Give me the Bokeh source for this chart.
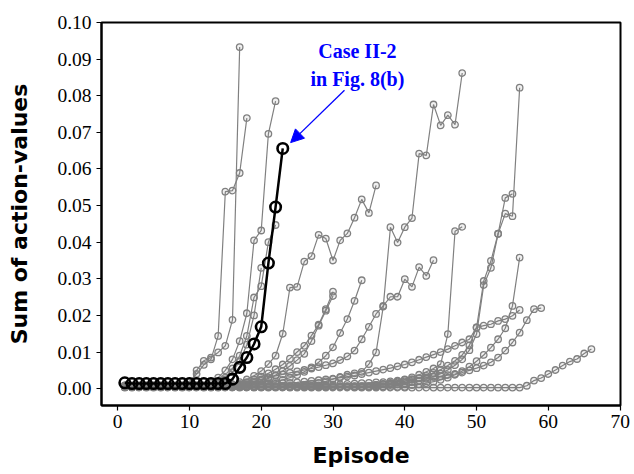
from bokeh.plotting import figure
from bokeh.models import ColumnDataSource, Arrow, NormalHead, Label, FixedTicker
from bokeh.embed import file_html
from bokeh.resources import INLINE

# ---------------- data ----------------
x_ticks = [0, 10, 20, 30, 40, 50, 60, 70]
y_ticks = [0.00, 0.01, 0.02, 0.03, 0.04, 0.05, 0.06, 0.07, 0.08, 0.09, 0.10]
y_tick_labels = ["0.00", "0.01", "0.02", "0.03", "0.04", "0.05", "0.06", "0.07", "0.08", "0.09", "0.10"]

case_values = [0.0016, 0.0014, 0.0014, 0.0014, 0.0014, 0.0014, 0.0014, 0.0014, 0.0014, 0.0014,
               0.0014, 0.0014, 0.0014, 0.0014, 0.0014, 0.0026, 0.0058, 0.0085, 0.0122, 0.0169,
               0.0343, 0.0496, 0.0656]

g01 = [0.0006, 0.0006, 0.0006, 0.0006, 0.0006, 0.0006, 0.0006, 0.0006, 0.0006, 0.0006,
       0.0050, 0.0076, 0.0085, 0.0099, 0.0117, 0.0188, 0.0933]
g02 = [0.0007, 0.0007, 0.0007, 0.0007, 0.0007, 0.0007, 0.0007, 0.0007, 0.0007, 0.0020,
       0.0040, 0.0065, 0.0080, 0.0144, 0.0538, 0.0541, 0.0589, 0.0739]
g03 = [0.0005, 0.0005, 0.0005, 0.0005, 0.0005, 0.0005, 0.0005, 0.0005, 0.0005, 0.0005,
       0.0005, 0.0005, 0.0015, 0.0030, 0.0050, 0.0080, 0.0130, 0.0206, 0.0405, 0.0432,
       0.0696, 0.0785]
g04 = [0.0008, 0.0008, 0.0008, 0.0008, 0.0008, 0.0008, 0.0008, 0.0008, 0.0008, 0.0008,
       0.0008, 0.0008, 0.0008, 0.0015, 0.0030, 0.0055, 0.0090, 0.0144, 0.0249, 0.0280,
       0.0400, 0.0447]
g05 = [0.0004, 0.0004, 0.0004, 0.0004, 0.0004, 0.0004, 0.0004, 0.0004, 0.0004, 0.0004,
       0.0004, 0.0004, 0.0004, 0.0012, 0.0025, 0.0045, 0.0075, 0.0120, 0.0200, 0.0330]
g06 = [0.0006, 0.0006, 0.0006, 0.0006, 0.0006, 0.0006, 0.0006, 0.0006, 0.0006, 0.0006,
       0.0006, 0.0006, 0.0006, 0.0006, 0.0006, 0.0012, 0.0018, 0.0025, 0.0035, 0.0048,
       0.0067, 0.0090, 0.0150, 0.0276, 0.0278, 0.0347, 0.0362, 0.0420, 0.0410, 0.0350,
       0.0405, 0.0424, 0.0467, 0.0517, 0.0480, 0.0555]
g07 = [0.0005, 0.0005, 0.0005, 0.0005, 0.0005, 0.0005, 0.0005, 0.0005, 0.0005, 0.0005,
       0.0005, 0.0005, 0.0005, 0.0005, 0.0005, 0.0005, 0.0012, 0.0018, 0.0025, 0.0033,
       0.0042, 0.0053, 0.0066, 0.0082, 0.0100, 0.0117, 0.0145, 0.0175, 0.0217, 0.0265]
g08 = [0.0007, 0.0007, 0.0007, 0.0007, 0.0007, 0.0007, 0.0007, 0.0007, 0.0007, 0.0007,
       0.0007, 0.0007, 0.0007, 0.0007, 0.0007, 0.0007, 0.0007, 0.0012, 0.0016, 0.0021,
       0.0028, 0.0037, 0.0048, 0.0062, 0.0078, 0.0095, 0.0130, 0.0172, 0.0213, 0.0253]
g09 = [0.0004, 0.0004, 0.0004, 0.0004, 0.0004, 0.0004, 0.0004, 0.0004, 0.0004, 0.0004,
       0.0004, 0.0004, 0.0004, 0.0004, 0.0004, 0.0004, 0.0004, 0.0004, 0.0004, 0.0012,
       0.0015, 0.0019, 0.0024, 0.0030, 0.0037, 0.0046, 0.0058, 0.0072, 0.0090, 0.0113,
       0.0152, 0.0190, 0.0240, 0.0296]
g10 = [0.0009, 0.0009, 0.0009, 0.0009, 0.0009, 0.0009, 0.0009, 0.0009, 0.0009, 0.0009,
       0.0009, 0.0009, 0.0009, 0.0009, 0.0009, 0.0009, 0.0012, 0.0016, 0.0020, 0.0025,
       0.0031, 0.0035, 0.0039, 0.0043, 0.0047, 0.0051, 0.0055, 0.0059, 0.0064, 0.0069,
       0.0078, 0.0088, 0.0104, 0.0135, 0.0169, 0.0204, 0.0226, 0.0251, 0.0251, 0.0299,
       0.0278, 0.0332, 0.0308, 0.0351]
g11 = [0.0006, 0.0006, 0.0006, 0.0006, 0.0006, 0.0006, 0.0006, 0.0006, 0.0006, 0.0006,
       0.0006, 0.0006, 0.0006, 0.0006, 0.0006, 0.0006, 0.0006, 0.0006, 0.0006, 0.0006,
       0.0006, 0.0006, 0.0006, 0.0006, 0.0006, 0.0010, 0.0013, 0.0016, 0.0020, 0.0026,
       0.0032, 0.0038, 0.0042, 0.0046, 0.0067, 0.0099, 0.0224, 0.0441, 0.0399, 0.0441,
       0.0466, 0.0642, 0.0637, 0.0776, 0.0719, 0.0747, 0.0721, 0.0862]
g12 = [0.0005, 0.0005, 0.0005, 0.0005, 0.0005, 0.0005, 0.0005, 0.0005, 0.0005, 0.0005,
       0.0005, 0.0005, 0.0005, 0.0005, 0.0005, 0.0005, 0.0005, 0.0005, 0.0005, 0.0005,
       0.0005, 0.0005, 0.0005, 0.0005, 0.0005, 0.0005, 0.0005, 0.0005, 0.0005, 0.0005,
       0.0005, 0.0005, 0.0005, 0.0005, 0.0005, 0.0010, 0.0013, 0.0016, 0.0020, 0.0025,
       0.0031, 0.0038, 0.0046, 0.0055, 0.0067, 0.0149, 0.0430, 0.0442]
g13 = [0.0008, 0.0008, 0.0008, 0.0008, 0.0008, 0.0008, 0.0008, 0.0008, 0.0008, 0.0008,
       0.0008, 0.0008, 0.0008, 0.0008, 0.0008, 0.0008, 0.0008, 0.0010, 0.0011, 0.0012,
       0.0013, 0.0014, 0.0015, 0.0016, 0.0017, 0.0019, 0.0021, 0.0023, 0.0025, 0.0027,
       0.0030, 0.0033, 0.0036, 0.0040, 0.0044, 0.0048, 0.0052, 0.0056, 0.0061, 0.0066,
       0.0072, 0.0079, 0.0086, 0.0093, 0.0100, 0.0108, 0.0117, 0.0126, 0.0135, 0.0167,
       0.0172, 0.0176, 0.0185, 0.0190, 0.0199, 0.0215]
g14 = [0.0004, 0.0004, 0.0004, 0.0004, 0.0004, 0.0004, 0.0004, 0.0004, 0.0004, 0.0004,
       0.0004, 0.0004, 0.0004, 0.0004, 0.0004, 0.0004, 0.0004, 0.0004, 0.0004, 0.0004,
       0.0004, 0.0004, 0.0004, 0.0004, 0.0006, 0.0007, 0.0008, 0.0009, 0.0010, 0.0011,
       0.0012, 0.0013, 0.0014, 0.0015, 0.0016, 0.0017, 0.0018, 0.0020, 0.0022, 0.0024,
       0.0026, 0.0028, 0.0030, 0.0032, 0.0034, 0.0037, 0.0040, 0.0044, 0.0050, 0.0056,
       0.0063, 0.0072, 0.0085, 0.0104, 0.0126, 0.0153, 0.0187, 0.0217, 0.0220]
g15 = [0.0007, 0.0007, 0.0007, 0.0007, 0.0007, 0.0007, 0.0007, 0.0007, 0.0007, 0.0007,
       0.0007, 0.0007, 0.0007, 0.0007, 0.0007, 0.0007, 0.0007, 0.0007, 0.0007, 0.0007,
       0.0007, 0.0007, 0.0007, 0.0007, 0.0007, 0.0007, 0.0007, 0.0007, 0.0007, 0.0007,
       0.0007, 0.0007, 0.0007, 0.0007, 0.0007, 0.0010, 0.0012, 0.0014, 0.0017, 0.0020,
       0.0024, 0.0029, 0.0035, 0.0043, 0.0052, 0.0063, 0.0076, 0.0092, 0.0118, 0.0167,
       0.0294, 0.0349, 0.0423, 0.0521, 0.0532]
g16 = [0.0006, 0.0006, 0.0006, 0.0006, 0.0006, 0.0006, 0.0006, 0.0006, 0.0006, 0.0006,
       0.0006, 0.0006, 0.0006, 0.0006, 0.0006, 0.0006, 0.0006, 0.0006, 0.0006, 0.0006,
       0.0006, 0.0006, 0.0006, 0.0006, 0.0006, 0.0006, 0.0006, 0.0006, 0.0006, 0.0006,
       0.0006, 0.0006, 0.0006, 0.0006, 0.0006, 0.0006, 0.0006, 0.0010, 0.0012, 0.0015,
       0.0018, 0.0022, 0.0027, 0.0033, 0.0041, 0.0051, 0.0064, 0.0080, 0.0105, 0.0149,
       0.0283, 0.0330, 0.0423, 0.0478, 0.0471, 0.0822]
g17 = [0.0005, 0.0005, 0.0005, 0.0005, 0.0005, 0.0005, 0.0005, 0.0005, 0.0005, 0.0005,
       0.0005, 0.0005, 0.0005, 0.0005, 0.0005, 0.0005, 0.0005, 0.0005, 0.0005, 0.0005,
       0.0005, 0.0005, 0.0005, 0.0005, 0.0005, 0.0005, 0.0005, 0.0005, 0.0005, 0.0005,
       0.0005, 0.0005, 0.0005, 0.0005, 0.0005, 0.0005, 0.0005, 0.0005, 0.0005, 0.0005,
       0.0010, 0.0012, 0.0015, 0.0019, 0.0024, 0.0030, 0.0038, 0.0048, 0.0060, 0.0075,
       0.0092, 0.0112, 0.0135, 0.0165, 0.0226, 0.0358]
g18 = [0.0003, 0.0003, 0.0003, 0.0003, 0.0003, 0.0003, 0.0003, 0.0003, 0.0003, 0.0003,
       0.0003, 0.0003, 0.0003, 0.0003, 0.0003, 0.0003, 0.0003, 0.0003, 0.0003, 0.0003,
       0.0003, 0.0003, 0.0003, 0.0003, 0.0003, 0.0003, 0.0003, 0.0003, 0.0003, 0.0003,
       0.0003, 0.0003, 0.0003, 0.0003, 0.0003, 0.0003, 0.0003, 0.0003, 0.0003, 0.0003,
       0.0003, 0.0003, 0.0003, 0.0003, 0.0003, 0.0003, 0.0003, 0.0003, 0.0003, 0.0003,
       0.0003, 0.0003, 0.0003, 0.0003, 0.0003, 0.0003, 0.0008, 0.0022, 0.0029, 0.0040,
       0.0051, 0.0063, 0.0074, 0.0081, 0.0096, 0.0108]

gray_series = [g01, g02, g03, g04, g05, g06, g07, g08, g09, g10,
               g11, g12, g13, g14, g15, g16, g17, g18]

annotation_lines = ["Case II-2", "in Fig. 8(b)"]

# ---------------- figure ----------------
GRAY = "#808080"
p = figure(width=634, height=474, output_backend="svg", toolbar_location=None,
           x_range=(-2.25, 70.05), y_range=(-0.0046, 0.1),
           min_border_left=101, min_border_right=14, min_border_top=22, min_border_bottom=69)
p.background_fill_color = "white"
p.border_fill_color = "white"
p.grid.visible = False
p.outline_line_color = "black"
p.outline_line_width = 2
p.outline_line_alpha = 1

for vals in gray_series:
    src = ColumnDataSource(dict(x=list(range(1, len(vals) + 1)), y=vals))
    p.line("x", "y", source=src, line_color=GRAY, line_width=1.2)
    p.scatter("x", "y", source=src, marker="circle", size=6.5, line_color=GRAY,
              line_width=1.3, fill_color=GRAY, fill_alpha=0.12)

src_case = ColumnDataSource(dict(x=list(range(1, len(case_values) + 1)), y=case_values))
p.line("x", "y", source=src_case, line_color="black", line_width=2.5)
p.scatter("x", "y", source=src_case, marker="circle", size=10.5, line_color="black",
          line_width=2.6, fill_color=None)

# annotation
p.add_layout(Label(x=33.4, y=0.0921, text=annotation_lines[0], text_align="center",
                   text_baseline="middle", text_color="#0000ff", text_font="Liberation Serif",
                   text_font_style="bold", text_font_size="20px"))
p.add_layout(Label(x=33.4, y=0.0847, text=annotation_lines[1], text_align="center",
                   text_baseline="middle", text_color="#0000ff", text_font="Liberation Serif",
                   text_font_style="bold", text_font_size="20px"))
p.add_layout(Arrow(end=NormalHead(size=13, fill_color="#0000ff", line_color="#0000ff"),
                   x_start=31.6, y_start=0.0815, x_end=24.1, y_end=0.0672,
                   line_color="#0000ff", line_width=1.3))

# axes
p.xaxis.ticker = FixedTicker(ticks=x_ticks)
p.yaxis.ticker = FixedTicker(ticks=y_ticks)
p.yaxis.major_label_overrides = {t: l for t, l in zip(y_ticks, y_tick_labels)}
for ax in (p.xaxis, p.yaxis):
    ax.axis_line_color = "black"
    ax.axis_line_width = 2
    ax.major_tick_line_color = "black"
    ax.major_tick_line_width = 1.2
    ax.major_tick_out = 5
    ax.major_tick_in = 0
    ax.minor_tick_line_color = None
    ax.major_label_text_font = "Liberation Serif"
    ax.major_label_text_font_size = "19.5px"
    ax.major_label_text_color = "black"
    ax.axis_label_text_font = "DejaVu Sans"
    ax.axis_label_text_font_style = "bold"
    ax.axis_label_text_color = "black"
p.xaxis.axis_label = "Episode"
p.yaxis.axis_label = "Sum of action-values"
p.xaxis.axis_label_text_font_size = "22px"
p.yaxis.axis_label_text_font_size = "22px"
p.xaxis.major_label_standoff = 4
p.yaxis.major_label_standoff = 5
p.xaxis.axis_label_standoff = 12
p.yaxis.axis_label_standoff = 22

open("out.html", "w").write(file_html(p, INLINE))
